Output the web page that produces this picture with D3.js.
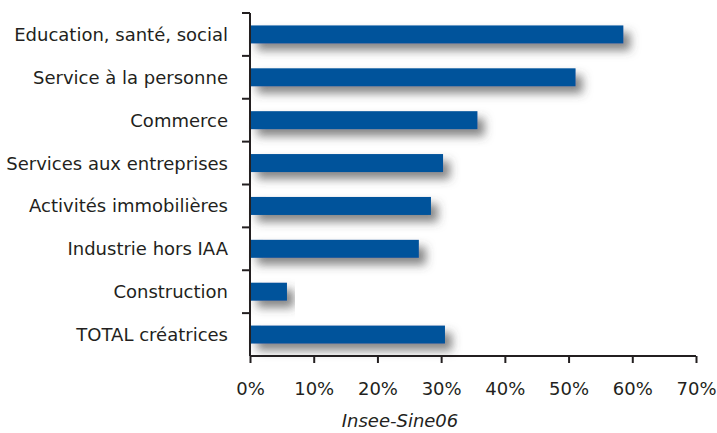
<!DOCTYPE html>
<html>
<head>
<meta charset="utf-8">
<script src="https://cdn.jsdelivr.net/npm/d3@7"></script>
<style>
  body { margin: 0; background: #fff; }
  text { font-family: "DejaVu Sans", sans-serif; fill: #231f20; }
</style>
</head>
<body>
<div id="graph"></div>
<script>
var categories = ["Education, santé, social", "Service à la personne", "Commerce",
                  "Services aux entreprises", "Activités immobilières", "Industrie hors IAA",
                  "Construction", "TOTAL créatrices"];
var values = [58.6, 51.1, 35.7, 30.3, 28.4, 26.5, 5.8, 30.6];
var xTicks = [0, 10, 20, 30, 40, 50, 60, 70];
var source = "Insee-Sine06";

var margin = {top: 13, right: 21, bottom: 77, left: 250},
    width = 717 - margin.left - margin.right,
    height = 433 - margin.top - margin.bottom;

var svg = d3.select("#graph")
  .append("svg")
    .attr("width", 717)
    .attr("height", 433);

var defs = svg.append("defs");
var f = defs.append("filter").attr("id", "shadow")
    .attr("x", "-10%").attr("y", "-60%").attr("width", "130%").attr("height", "280%");
f.append("feDropShadow")
    .attr("dx", 7).attr("dy", 7).attr("stdDeviation", 5)
    .attr("flood-color", "#444").attr("flood-opacity", 0.65);

var g = svg.append("g")
    .attr("transform", "translate(" + margin.left + "," + margin.top + ")");

var x = d3.scaleLinear()
    .domain([0, 70])
    .range([0, width]);

var y = d3.scaleBand()
    .domain(categories)
    .range([0, height])
    .paddingInner(0.58)
    .paddingOuter(0.29);

g.selectAll(".bar")
  .data(values)
  .enter().append("rect")
    .attr("class", "bar")
    .attr("x", 0)
    .attr("y", (d, i) => y(categories[i]))
    .attr("width", d => x(d))
    .attr("height", y.bandwidth())
    .attr("fill", "#00529b")
    .attr("filter", "url(#shadow)");

// y axis: line + boundary ticks between categories
var step = height / categories.length;
g.append("line")
    .attr("x1", 0).attr("x2", 0).attr("y1", 0).attr("y2", height)
    .attr("stroke", "#231f20").attr("stroke-width", 2);
d3.range(categories.length).forEach(function(i) {
  g.append("line")
    .attr("x1", -8).attr("x2", 0)
    .attr("y1", i * step).attr("y2", i * step)
    .attr("stroke", "#231f20").attr("stroke-width", 2);
});
g.selectAll(".cat")
  .data(categories)
  .enter().append("text")
    .attr("class", "cat")
    .attr("x", -22)
    .attr("y", d => y(d) + y.bandwidth() / 2)
    .attr("dy", "0.36em")
    .attr("text-anchor", "end")
    .style("font-size", "18px")
    .text(d => d);

// x axis
var xAxis = g.append("g")
    .attr("transform", "translate(0," + height + ")")
    .call(d3.axisBottom(x).tickValues(xTicks).tickSize(7).tickPadding(19)
          .tickFormat(d => d + "%"));
xAxis.select(".domain").attr("stroke", "#231f20").attr("stroke-width", 2)
    .attr("d", "M0,0H" + width);
xAxis.selectAll(".tick line").attr("stroke", "#231f20").attr("stroke-width", 2);
xAxis.selectAll(".tick text")
    .style("font-size", "18px")
    .style("font-family", '"DejaVu Sans", sans-serif')
    .attr("fill", "#231f20");

svg.append("text")
    .attr("x", 400)
    .attr("y", 427)
    .attr("text-anchor", "middle")
    .style("font-size", "18px")
    .style("font-style", "italic")
    .attr("fill", "#3d3d3d")
    .text(source);
</script>
</body>
</html>
